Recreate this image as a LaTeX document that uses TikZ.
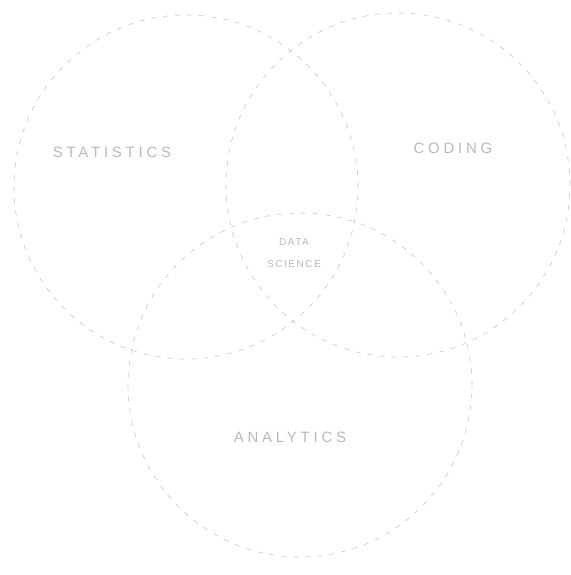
\documentclass[tikz,border=0pt]{standalone}
\usepackage{fontspec}
\setmainfont{Liberation Sans}
\begin{document}
\begin{tikzpicture}[x=1pt,y=-1pt,every node/.style={font=\addfontfeature{LetterSpace=25}\fontsize{15}{18}\selectfont,text=gray!55,inner sep=0pt}]
\useasboundingbox (0,0) rectangle (570,575);
\tikzset{ring/.style={draw=gray!45,circle,dash pattern=on 5pt off 7pt,line width=0.6pt,minimum size=344pt}}
\node[ring] (cstat) at (186,187) {};
\node[ring] (ccode) at (398,185) {};
\node[ring] (canal) at (300,385) {};
\node (stat) at (112,152) {STATISTICS};
\node (code) at (453,148) {CODING};
\node (anal) at (290,437) {ANALYTICS};
\node[align=center,font=\addfontfeature{LetterSpace=15}\fontsize{10}{22}\selectfont] (ds) at (294,253) {DATA\\SCIENCE};
\end{tikzpicture}
\end{document}
